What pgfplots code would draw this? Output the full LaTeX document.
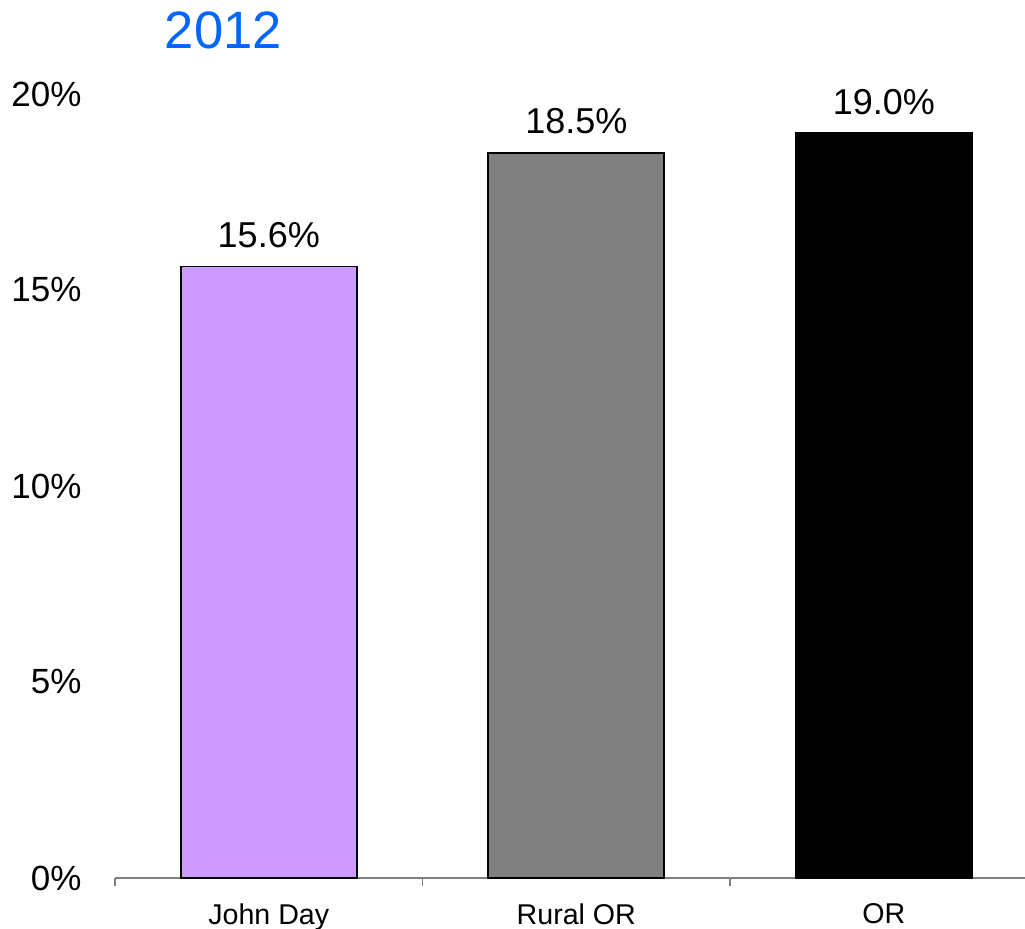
\documentclass[border=0pt]{standalone}
\usepackage{pgfplots}
\pgfplotsset{compat=1.18}
\usepackage{fontspec}
\setmainfont{Liberation Sans}
\definecolor{jday}{RGB}{204,153,255}
\definecolor{rural}{RGB}{128,128,128}
\definecolor{titleblue}{RGB}{0,102,255}
\begin{document}
\begin{tikzpicture}
\path[use as bounding box] (-57.5pt,-25.5pt) rectangle (455pt,439pt);
\begin{axis}[
    scale only axis,
    width=455pt, height=392pt,
    xmin=-0.5, xmax=2.459,
    ymin=0, ymax=20,
    axis x line*=bottom,
    axis y line*=left,
    y axis line style={draw=none},
    x axis line style={draw=rural, line width=0.6pt},
    ytick={0,5,10,15,20},
    ytick style={draw=none},
    yticklabel={\pgfmathprintnumber{\tick}\%},
    yticklabel style={font=\fontsize{17.5}{20}\selectfont, xshift=-9pt},
    xtick={0,1,2},
    xticklabels={John Day, Rural OR, OR},
    major x tick style={draw=none},
    minor xtick={-0.5,0.5,1.5},
    minor x tick style={draw=rural, line width=0.6pt},
    minor tick length=4pt,
    tick align=outside,
    xticklabel style={font=\fontsize{14.3}{17}\selectfont, yshift=-5pt},
    /pgf/number format/assume math mode=true,
    title={2012},
    title style={at={(axis description cs:0.119,1.043)}, anchor=base,
        font=\fontsize{26.3}{30}\selectfont, text=titleblue},
    bar width=88pt,
    nodes near coords={\pgfmathprintnumber[fixed,fixed zerofill,precision=1]{\pgfplotspointmeta}\%},
    nodes near coords style={font=\fontsize{18}{21}\selectfont, text=black, anchor=base, yshift=9.5pt},
    clip=false,
]
\addplot[ybar, bar shift=0pt, fill=jday, draw=black, line width=0.9pt] coordinates {(0,15.6)};
\addplot[ybar, bar shift=0pt, fill=rural, draw=black, line width=0.9pt] coordinates {(1,18.5)};
\addplot[ybar, bar shift=0pt, fill=black, draw=black, line width=0.9pt] coordinates {(2,19.0)};
\end{axis}
\end{tikzpicture}
\end{document}
